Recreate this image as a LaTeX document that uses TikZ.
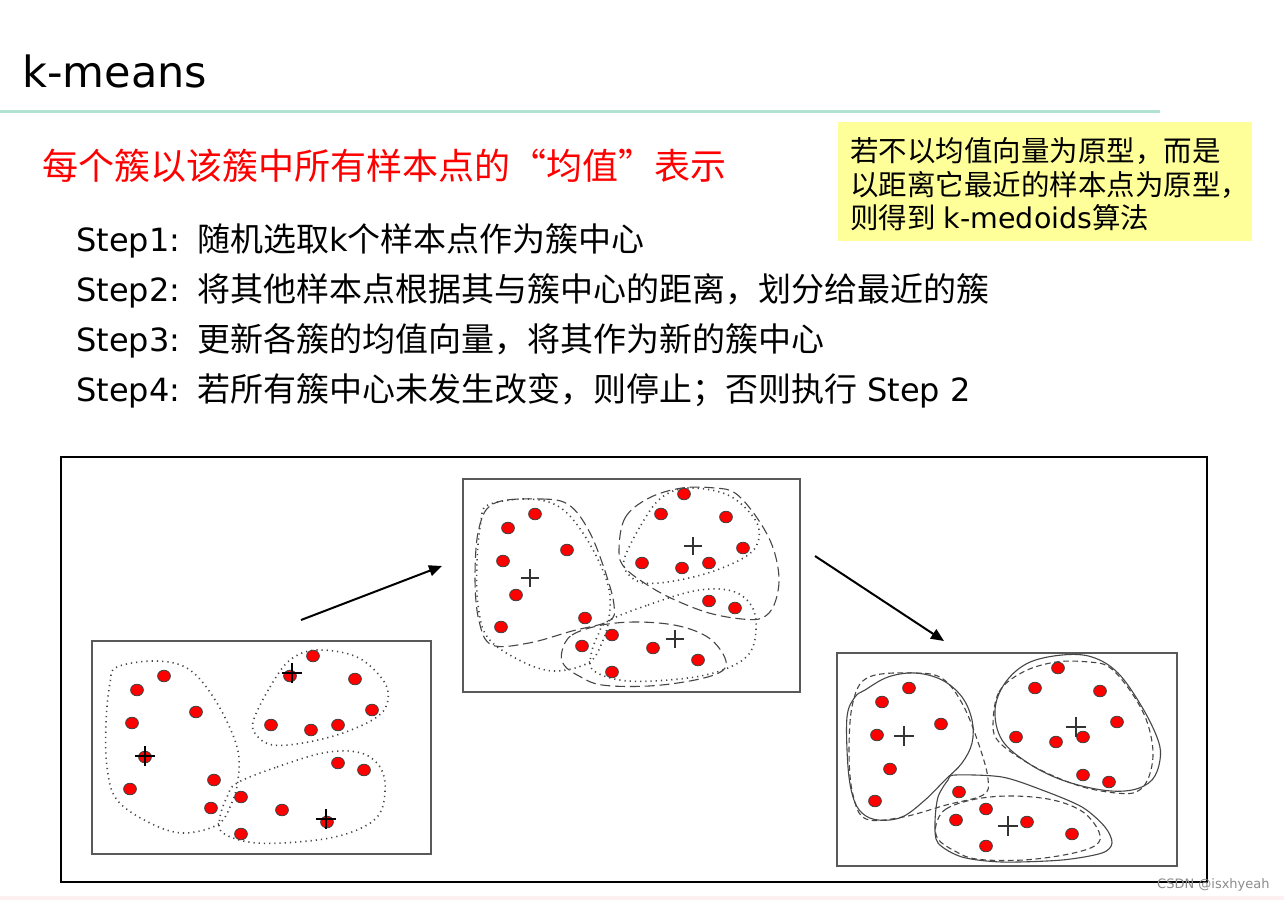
\documentclass[tikz,border=0pt]{standalone}
\usepackage{fontspec}
\setmainfont{DejaVu Sans}
\newfontfamily\cjk{Noto Sans CJK SC}
\usetikzlibrary{arrows.meta}
\definecolor{notebg}{RGB}{255,255,153}
\definecolor{rulegreen}{RGB}{178,226,208}
\definecolor{stripPink}{RGB}{252,240,240}
\definecolor{dotred}{RGB}{255,0,0}
\definecolor{contour}{RGB}{70,70,70}
\newcommand\stplabel[1]{\makebox[60.5pt][l]{\fontsize{16}{19}\selectfont #1}}
\newcommand\dotsset{%
  \foreach \p in {(164,676),(137,690),(196,712),(132,723),(145,757),(214,780),(130,789),(211,808),
    (313,656),(290,676),(355,679),(372,710),(271,725),(311,730),(338,725),
    (338,763),(364,770),(241,797),(282,810),(327,822),(241,834)}
    {\filldraw[sample] \p circle[x radius=3.2pt, y radius=2.9pt];}}
\newcommand\oldA{plot[smooth cycle, tension=0.6] coordinates {(117,667)(157,661)(190,670)(217,703)(237,747)(238,780)(230,807)(217,825)(183,833)(150,823)(117,800)(107,767)(106,723)(110,683)}}
\newcommand\oldB{plot[smooth cycle, tension=0.6] coordinates {(253,722)(270,687)(290,660)(317,650)(357,657)(383,680)(388,700)(377,717)(343,733)(303,743)(273,745)(258,737)}}
\newcommand\oldC{plot[smooth cycle, tension=0.6] coordinates {(237,783)(277,767)(323,753)(357,752)(377,763)(385,783)(380,813)(357,830)(317,840)(257,843)(223,833)(220,817)(227,797)}}
\newcommand\midA{plot[smooth cycle, tension=0.6] coordinates {(495,503)(542,499)(569,505)(589,531)(605,571)(614,605)(609,621)(572,631)(529,643)(492,645)(479,621)(475,578)(479,528)}}
\newcommand\midB{plot[smooth cycle, tension=0.6] coordinates {(619,551)(625,518)(649,498)(682,488)(715,488)(735,493)(755,515)(772,545)(779,578)(774,605)(762,618)(742,619)(709,613)(675,600)(649,586)(625,568)}}
\newcommand\midC{plot[smooth cycle, tension=0.6] coordinates {(562,651)(572,635)(602,625)(639,622)(679,626)(709,638)(725,658)(722,671)(695,680)(649,686)(602,685)(579,676)(564,665)}}
\tikzset{
  sample/.style={fill=dotred, draw=black!75, line width=0.4pt},
  panelframe/.style={draw=black!65, line width=0.7pt},
  dottedline/.style={draw=contour, line width=0.8pt, dash pattern=on 0.6pt off 2pt},
  dashedA/.style={draw=contour, line width=0.55pt, dash pattern=on 5pt off 2.4pt},
  dashedB/.style={draw=contour, line width=0.55pt, dash pattern=on 2.8pt off 1.8pt},
  solidline/.style={draw=contour, line width=0.55pt},
  boldcross/.style={draw=black, line width=1pt},
  thincross/.style={draw=black!80, line width=0.55pt},
  flow/.style={draw=black, line width=1pt, -{Triangle[length=6.5pt,width=5.5pt]}},
}
\begin{document}
\begin{tikzpicture}[x=0.5pt,y=-0.5pt]
\useasboundingbox (0,0) rectangle (1284,900);
\fill[white] (0,0) rectangle (1284,900);
\fill[stripPink] (0,896) rectangle (1284,900);
% header
\node[anchor=base west, inner sep=0] (title) at (22,87) {\fontsize{21.5}{24}\selectfont k-means};
\fill[rulegreen] (0,109.5) rectangle (1160,112.5);
\node[anchor=base west, inner sep=0, text=dotred] (lead) at (42,179)
  {\cjk\fontsize{18}{20}\selectfont 每个簇以该簇中所有样本点的“均值”表示};
% steps
\node[anchor=base west, inner sep=0] (s1) at (76,251)
  {\stplabel{Step1:}{\cjk\fontsize{16.5}{20}\selectfont 随机选取}{\fontsize{16}{19}\selectfont k}{\cjk\fontsize{16.5}{20}\selectfont 个样本点作为簇中心}};
\node[anchor=base west, inner sep=0] (s2) at (76,301)
  {\stplabel{Step2:}{\cjk\fontsize{16.5}{20}\selectfont 将其他样本点根据其与簇中心的距离，划分给最近的簇}};
\node[anchor=base west, inner sep=0] (s3) at (76,351)
  {\stplabel{Step3:}{\cjk\fontsize{16.5}{20}\selectfont 更新各簇的均值向量，将其作为新的簇中心}};
\node[anchor=base west, inner sep=0] (s4) at (76,401)
  {\stplabel{Step4:}{\cjk\fontsize{16.5}{20}\selectfont 若所有簇中心未发生改变，则停止；否则执行}\hspace{5pt}{\fontsize{16}{19}\selectfont Step 2}};
% note box
\node[fill=notebg, inner sep=0, minimum width=207pt, minimum height=59.5pt, anchor=north west] (note) at (838,122) {};
\node[anchor=base west, inner sep=0] (n1) at (850,161) {\cjk\fontsize{14.25}{17}\selectfont 若不以均值向量为原型，而是};
\node[anchor=base west, inner sep=0] (n2) at (850,195) {\cjk\fontsize{14.25}{17}\selectfont 以距离它最近的样本点为原型，};
\node[anchor=base west, inner sep=0] (n3) at (850,228) {{\cjk\fontsize{14.25}{17}\selectfont 则得到}\hspace{4pt}{\fontsize{14.25}{17}\selectfont k-medoids}{\cjk\fontsize{14.25}{17}\selectfont 算法}};
% outer frame
\draw[black, line width=0.6pt] (61,457) rectangle (1207,882);
% panel 1
\draw[panelframe] (92,641) rectangle (431,854);
\draw[dottedline] \oldA; \draw[dottedline] \oldB; \draw[dottedline] \oldC;
\dotsset
\foreach \c in {(145,756),(292,673),(326,819)}
  {\draw[boldcross] \c ++(-10,0) -- ++(20,0) \c ++(0,-10) -- ++(0,20);}
% panel 2
\begin{scope}[shift={(371,-162)}]
  \draw[panelframe] (92,641) rectangle (429,854);
  \draw[dottedline] \oldA; \draw[dottedline] \oldB; \draw[dottedline] \oldC;
  \dotsset
\end{scope}
\draw[dashedA] \midA; \draw[dashedA] \midB; \draw[dashedA] \midC;
\foreach \c in {(530,578),(693,546),(675,639)}
  {\draw[thincross] \c ++(-9,0) -- ++(18,0) \c ++(0,-9) -- ++(0,18);}
% panel 3
\begin{scope}[shift={(745,12)}]
  \draw[panelframe] (92,641) rectangle (432,854);
  \dotsset
\end{scope}
\begin{scope}[shift={(374,174)}]
  \draw[dashedB] \midA; \draw[dashedB] \midB; \draw[dashedB] \midC;
\end{scope}
\draw[solidline] plot[smooth cycle, tension=0.6] coordinates {(865,690)(888,677)(915,673)(942,680)(962,697)(972,720)(972,743)(962,763)(945,780)(925,800)(902,817)(878,820)(862,813)(853,797)(848,767)(847,717)(855,697)};
\draw[solidline] plot[smooth cycle, tension=0.6] coordinates {(995,710)(1005,683)(1028,663)(1062,655)(1092,657)(1118,673)(1142,707)(1158,740)(1160,760)(1152,780)(1132,790)(1102,790)(1062,780)(1028,763)(1002,740)};
\draw[solidline] plot[smooth cycle, tension=0.5] coordinates {(955,775)(1002,777)(1042,790)(1082,807)(1105,827)(1112,843)(1102,853)(1062,860)(1002,862)(962,857)(938,843)(935,823)(938,797)(948,780)};
\foreach \c in {(904,736),(1076,727),(1008,826)}
  {\draw[thincross] \c ++(-10,0) -- ++(20,0) \c ++(0,-10) -- ++(0,20);}
% arrows
\coordinate (a1s) at (301,620); \coordinate (a1e) at (442,566);
\coordinate (a2s) at (815,556); \coordinate (a2e) at (944,641);
\draw[flow] (a1s) -- (a1e);
\draw[flow] (a2s) -- (a2e);
% watermark
\node[anchor=base east, inner sep=0, text=black!45] (wm) at (1270,888) {\fontsize{6.5}{8}\selectfont CSDN @isxhyeah};
\end{tikzpicture}
\end{document}
